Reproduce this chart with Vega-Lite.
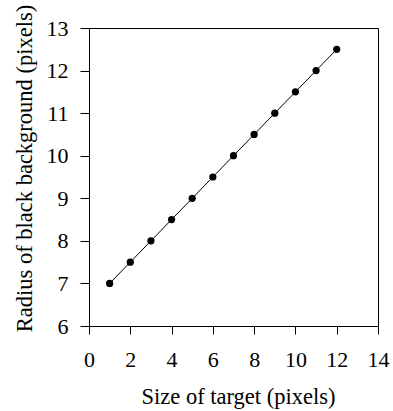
{
  "$schema": "https://vega.github.io/schema/vega-lite/v6.json",
  "width": 289,
  "height": 298,
  "autosize": {"type": "none"},
  "padding": {"left": 89, "top": 28, "right": 15, "bottom": 85},
  "background": "white",
  "config": {
    "view": {"stroke": "black", "strokeWidth": 1},
    "font": "Liberation Serif",
    "axis": {
      "grid": false,
      "domainColor": "black",
      "tickColor": "black",
      "labelColor": "black",
      "titleColor": "black",
      "labelFont": "Liberation Serif",
      "titleFont": "Liberation Serif",
      "labelFontSize": 22,
      "titleFontSize": 22.5,
      "titleFontWeight": "normal"
    }
  },
  "data": {
    "values": [
      {"size": 1, "radius": 7},
      {"size": 2, "radius": 7.5},
      {"size": 3, "radius": 8},
      {"size": 4, "radius": 8.5},
      {"size": 5, "radius": 9},
      {"size": 6, "radius": 9.5},
      {"size": 7, "radius": 10},
      {"size": 8, "radius": 10.5},
      {"size": 9, "radius": 11},
      {"size": 10, "radius": 11.5},
      {"size": 11, "radius": 12},
      {"size": 12, "radius": 12.5}
    ]
  },
  "encoding": {
    "x": {
      "field": "size",
      "type": "quantitative",
      "scale": {"domain": [0, 14], "nice": false},
      "axis": {
        "title": "Size of target (pixels)",
        "values": [0, 2, 4, 6, 8, 10, 12, 14],
        "tickSize": 8,
        "labelPadding": 15,
        "labelFlush": false,
        "titleX": 149,
        "titleY": 77,
        "titleBaseline": "alphabetic"
      }
    },
    "y": {
      "field": "radius",
      "type": "quantitative",
      "scale": {"domain": [6, 13], "nice": false, "zero": false},
      "axis": {
        "title": "Radius of black background (pixels)",
        "values": [6, 7, 8, 9, 10, 11, 12, 13],
        "tickSize": 9,
        "labelPadding": 12,
        "labelFlush": false,
        "titleX": -58,
        "titleY": 140,
        "titleBaseline": "alphabetic"
      }
    }
  },
  "layer": [
    {"mark": {"type": "line", "color": "black", "strokeWidth": 1}},
    {"mark": {"type": "circle", "color": "black", "opacity": 1, "size": 52}}
  ]
}
